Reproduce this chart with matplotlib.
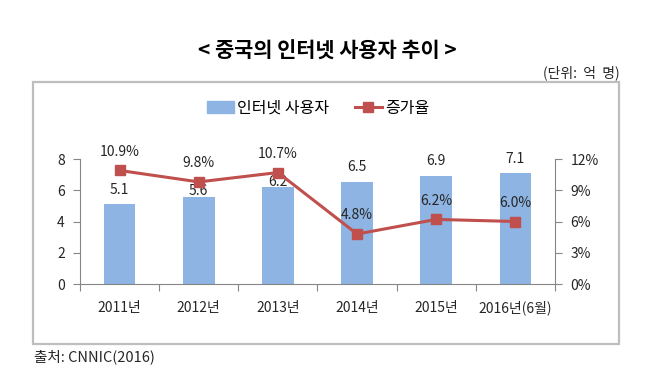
import numpy as np
import matplotlib.pyplot as plt
from matplotlib.patches import Rectangle
from matplotlib.lines import Line2D
from matplotlib.ticker import FuncFormatter

plt.rcParams['font.family'] = ['Noto Sans CJK KR', 'DejaVu Sans']

years = ['2011년', '2012년', '2013년', '2014년', '2015년', '2016년(6월)']
users = [5.1, 5.6, 6.2, 6.5, 6.9, 7.1]          # 억 명
growth = [10.9, 9.8, 10.7, 4.8, 6.2, 6.0]       # %

# distance of each bar label above its bar (in axis units), some were nudged down
bar_label_gap = [0.9, 0.38, 0.32, 1.02, 0.96, 0.9]

bar_color = '#8DB4E2'
line_color = '#C0504D'
text_color = '#262626'

fig = plt.figure(figsize=(6.5, 3.72), dpi=100)

# outer frame of the chart
frame = Rectangle((33 / 650, 1 - 344 / 372), 586 / 650, 262 / 372,
                  transform=fig.transFigure, fill=False,
                  edgecolor='#BEBEBE', linewidth=1.6)
fig.patches.append(frame)

fig.text(327 / 650, 1 - 51 / 372, '< 중국의 인터넷 사용자 추이 >', ha='center', va='center',
         fontsize=15, fontweight='bold', color='black')
fig.text(620 / 650, 1 - 73 / 372, '(단위:  억  명)', ha='right', va='center',
         fontsize=10, color=text_color)
fig.text(34 / 650, 1 - 357 / 372, '출처: CNNIC(2016)', ha='left', va='center',
         fontsize=10.5, color=text_color)

ax = fig.add_axes([80 / 650, 1 - 284 / 372, 475 / 650, 125 / 372])
x = np.arange(len(years))
ax.bar(x, users, width=0.4, color=bar_color, zorder=2)
ax.set_xlim(-0.5, len(years) - 0.5)
ax.set_ylim(0, 8)
ax.set_yticks([0, 2, 4, 6, 8])

for xi, v, g in zip(x, users, bar_label_gap):
    ax.text(xi, v + g, f'{v:.1f}', ha='center', va='center',
            fontsize=10, color=text_color, zorder=5)

ax2 = ax.twinx()
ax2.plot(x, growth, color=line_color, linewidth=2.2, marker='s',
         markersize=7, zorder=3)
ax2.set_ylim(0, 12)
ax2.set_yticks([0, 3, 6, 9, 12])
ax2.yaxis.set_major_formatter(FuncFormatter(lambda v, p: f'{v:.0f}%'))

for xi, v in zip(x, growth):
    ax2.text(xi, v + 1.8, f'{v:.1f}%', ha='center', va='center',
             fontsize=10, color=text_color, zorder=5)

# category axis: ticks between categories like Excel
ax.set_xticks(np.arange(-0.5, len(years), 1.0))
ax.set_xticklabels([])
ax.set_xticks(x, minor=True)
ax.set_xticklabels(years, minor=True)
ax.tick_params(axis='x', which='minor', length=0, pad=12, labelsize=10,
               labelcolor=text_color)
ax.tick_params(axis='x', which='major', length=5, color='#868686')
ax.tick_params(axis='y', length=5, color='#868686', labelsize=10,
               labelcolor=text_color, pad=6)
ax2.tick_params(axis='y', length=5, color='#868686', labelsize=10,
                labelcolor=text_color, pad=6)

for a in (ax, ax2):
    a.spines['top'].set_visible(False)
    a.spines['left'].set_color('#868686')
    a.spines['right'].set_color('#868686')
    a.spines['bottom'].set_color('#868686')
ax.spines['right'].set_visible(False)
ax2.spines['left'].set_visible(False)
ax2.spines['bottom'].set_visible(False)

handles = [Rectangle((0, 0), 1, 1, color=bar_color),
           Line2D([], [], color=line_color, linewidth=2.2, marker='s', markersize=7)]
fig.legend(handles, ['인터넷 사용자', '증가율'], loc='center',
           bbox_to_anchor=(318 / 650, 1 - 108 / 372), ncol=2, frameon=False,
           fontsize=11.5, handlelength=1.7, columnspacing=1.6, handletextpad=0.2)

fig.savefig('out.png', dpi=100)
